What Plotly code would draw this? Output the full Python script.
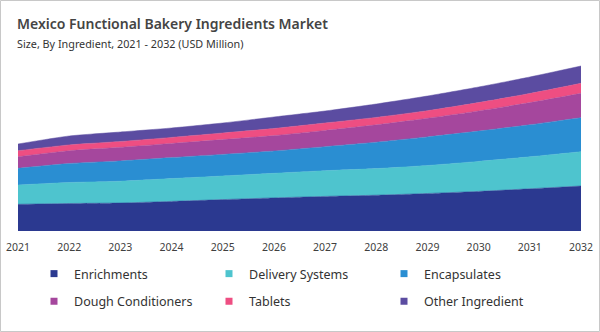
import plotly.graph_objects as go

years = list(range(2021, 2033))
enrichments = [26.7, 27.5, 28.0, 29.6, 31.4, 33.1, 34.6, 35.8, 37.5, 39.6, 42.2, 45.0]
delivery = [19.3, 21.0, 21.8, 22.8, 23.6, 24.6, 25.7, 26.6, 28.0, 30.0, 32.0, 34.3]
encapsulates = [16.7, 19.0, 20.3, 21.0, 21.6, 22.3, 24.0, 26.4, 28.6, 30.3, 32.0, 34.0]
dough = [11.6, 12.8, 13.6, 14.2, 14.8, 15.4, 16.3, 17.4, 18.6, 20.2, 22.2, 24.4]
tablets = [6.0, 5.8, 5.8, 6.0, 6.6, 7.1, 7.4, 7.4, 7.6, 8.3, 9.1, 10.0]
other = [6.7, 8.9, 9.5, 9.4, 10.0, 11.5, 12.0, 13.4, 14.7, 15.6, 16.5, 17.3]

series = [
    ("Enrichments", enrichments, "#2B3990", "legend"),
    ("Delivery Systems", delivery, "#4EC4CE", "legend"),
    ("Encapsulates", encapsulates, "#2A8ED2", "legend"),
    ("Dough Conditioners", dough, "#A5479D", "legend2"),
    ("Tablets", tablets, "#EE4E82", "legend2"),
    ("Other Ingredient", other, "#5B4CA1", "legend2"),
]

fig = go.Figure()
for name, vals, col, lg in series:
    fig.add_trace(go.Scatter(
        x=years, y=vals, name=name, stackgroup="one", mode="lines",
        line=dict(width=0.5, color=col, shape="spline", smoothing=0.6),
        fillcolor=col, showlegend=False, hoverinfo="x+y+name"))
for name, vals, col, lg in series:
    fig.add_trace(go.Scatter(
        x=[None], y=[None], name=name, mode="markers", legend=lg,
        marker=dict(symbol="square", size=7, color=col), showlegend=True))

W, H = 600, 332
L, R, T, B = 18, 19, 51, 101
pw, ph = W - L - R, H - T - B

def px(x):
    return (x - L) / pw

def py(y):
    return (H - B - y) / ph

legend_common = dict(orientation="h", xanchor="left", yanchor="middle",
                     entrywidth=130, font=dict(size=12.5, color="#333333"),
                     tracegroupgap=0, traceorder="normal",
                     bgcolor="rgba(0,0,0,0)")

fig.update_layout(
    width=W, height=H,
    margin=dict(l=L, r=R, t=T, b=B),
    paper_bgcolor="white", plot_bgcolor="white",
    font=dict(family="Noto Sans, Open Sans, sans-serif", color="#333333"),
    xaxis=dict(range=[2021, 2032], tickvals=years, ticktext=[str(y) for y in years],
               showgrid=False, zeroline=False, showline=False, ticks="",
               ticklabelstandoff=8, tickfont=dict(size=10.5, color="#404040"),
               automargin=False, fixedrange=True),
    yaxis=dict(range=[0, 180], visible=False, showgrid=False, zeroline=False,
               automargin=False, fixedrange=True),
    legend=dict(x=px(34), y=py(274), **legend_common),
    legend2=dict(x=px(34), y=py(301.5), **legend_common),
    showlegend=True,
    annotations=[
        dict(text="Mexico Functional Bakery Ingredients Market", xref="paper", yref="paper",
             x=px(15), y=py(23), xanchor="left", yanchor="middle", showarrow=False,
             font=dict(size=14, color="#444444", weight=600)),
        dict(text="Size, By Ingredient, 2021 - 2032 (USD Million)", xref="paper", yref="paper",
             x=px(15), y=py(44), xanchor="left", yanchor="middle", showarrow=False,
             font=dict(size=10.8, color="#333333")),
    ],
    shapes=[dict(type="rect", xref="paper", yref="paper",
                 x0=px(0.5), x1=px(599.5), y0=py(331.5), y1=py(0.5),
                 line=dict(color="#C8C8C8", width=1), fillcolor="rgba(0,0,0,0)", layer="above")],
)

fig.write_html("out.html")
